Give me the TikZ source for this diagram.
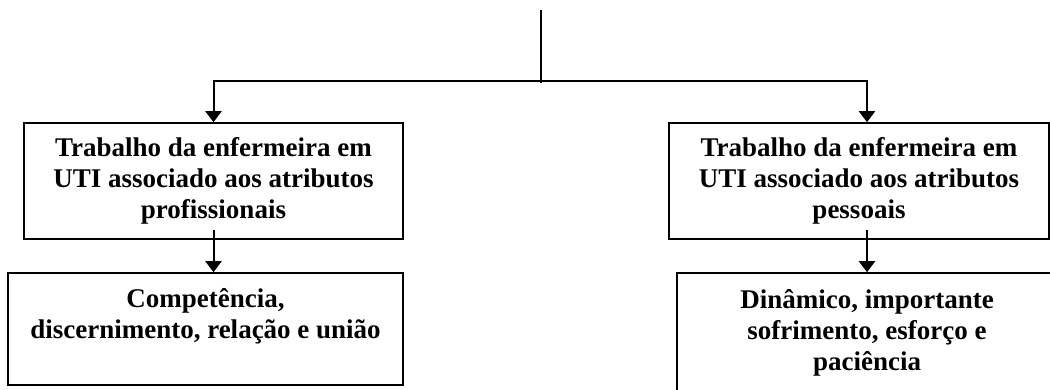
\documentclass[tikz,border=0pt]{standalone}
\usepackage{fontspec}
\setmainfont{Liberation Serif}
\usetikzlibrary{arrows.meta,calc}
\tikzset{
  boxnode/.style={draw, line width=1.6pt, inner sep=0pt, align=center,
    font=\bfseries\fontsize{27}{31}\selectfont},
  link/.style={line width=2pt},
  arr/.style={link, -{Triangle[length=11pt,width=16pt]}}
}
\begin{document}
\begin{tikzpicture}[x=1pt,y=-1pt]
\clip (0,0) rectangle (1050,390);
\fill[white] (0,0) rectangle (1050,390);
\node[boxnode, minimum width=379pt, minimum height=116pt] (b1) at (213.5,181)
  {Trabalho da enfermeira em\\UTI associado aos atributos\\profissionais};
\node[boxnode, minimum width=380pt, minimum height=116pt] (b2) at (859,181)
  {Trabalho da enfermeira em\\UTI associado aos atributos\\pessoais};
\node[boxnode, minimum width=395pt, minimum height=112pt] (c1) at (205.5,329)
  {Competência,\\discernimento, relação e união\\\mbox{}};
\node[boxnode, minimum width=380pt, minimum height=120pt] (c2) at (867,333)
  {Dinâmico, importante\\sofrimento, esforço e\\paciência};
\coordinate (top) at (541,10);
\coordinate (j) at (541,81);
\draw[link] (top) -- ($(j)+(0,2)$);
\draw[arr] (j) -| (b1.north);
\draw[arr] (j) -| (c2.north |- b2.north);
\draw[arr] ($(b1.south)+(0,-10)$) -- (b1.south |- c1.north);
\draw[arr] ($(c2.north |- b2.south)+(0,-10)$) -- (c2.north);
\end{tikzpicture}
\end{document}
